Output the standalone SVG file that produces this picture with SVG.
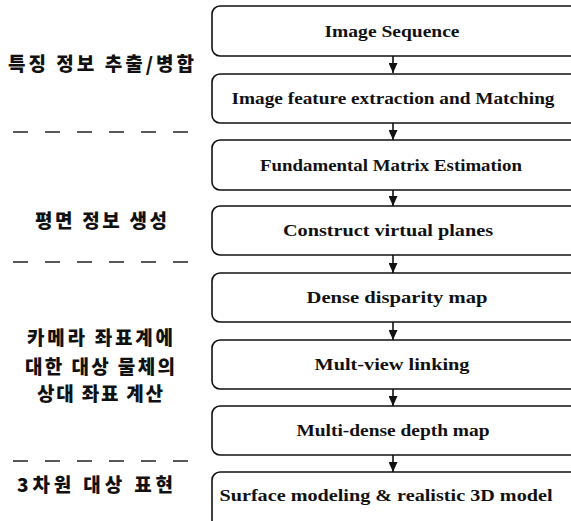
<svg xmlns="http://www.w3.org/2000/svg" width="571" height="521" viewBox="0 0 571 521">
<style>
.box{fill:#fff;stroke:#111;stroke-width:1.6}
.t{font-family:"Liberation Serif",serif;font-weight:bold;font-size:17.5px;fill:#111;text-anchor:middle}
.k{font-family:"Noto Sans CJK KR",sans-serif;font-weight:900;font-size:19px;fill:#111;text-anchor:middle}
.sep{stroke:#222;stroke-width:1.3;stroke-dasharray:15 17}
.con{stroke:#111;stroke-width:1.6;fill:none;marker-end:url(#ah)}
</style>
<defs>
<marker id="ah" markerWidth="10" markerHeight="9" refX="10" refY="4.5" orient="auto" markerUnits="userSpaceOnUse" viewBox="0 0 10 9">
<path d="M0,0 L10,4.5 L0,9 Z" fill="#111"/>
</marker>
</defs>
<rect width="571" height="521" fill="#fff"/>
<g id="separators">
<line class="sep" x1="13" y1="132" x2="196" y2="132"/>
<line class="sep" x1="13" y1="262" x2="196" y2="262"/>
<line class="sep" x1="13" y1="461" x2="196" y2="461"/>
</g>
<g id="stage-labels">
<text class="k" x="101" y="71" textLength="186" lengthAdjust="spacing">특징 정보 추출/병합</text>
<text class="k" x="101" y="228" textLength="132" lengthAdjust="spacing">평면 정보 생성</text>
<text class="k" x="100" y="345" textLength="146" lengthAdjust="spacing">카메라 좌표계에</text>
<text class="k" x="100" y="374" textLength="150" lengthAdjust="spacing">대한 대상 물체의</text>
<text class="k" x="100" y="401" textLength="126" lengthAdjust="spacing">상대 좌표 계산</text>
<text class="k" x="95" y="492" textLength="156" lengthAdjust="spacing">3차원 대상 표현</text>
</g>
<g id="connectors">
<line class="con" x1="393" y1="56" x2="393" y2="73"/>
<line class="con" x1="393" y1="123" x2="393" y2="140"/>
<line class="con" x1="393" y1="190" x2="393" y2="206"/>
<line class="con" x1="393" y1="255" x2="393" y2="273"/>
<line class="con" x1="393" y1="322" x2="393" y2="340"/>
<line class="con" x1="393" y1="389" x2="393" y2="406"/>
<line class="con" x1="393" y1="455" x2="393" y2="472"/>
</g>
<g id="n1"><rect class="box" x="212" y="6" width="420" height="50" rx="8"/><text class="t" x="392" y="37" textLength="135" lengthAdjust="spacingAndGlyphs">Image Sequence</text></g>
<g id="n2"><rect class="box" x="212" y="74" width="420" height="49" rx="8"/><text class="t" x="393" y="104" textLength="323" lengthAdjust="spacingAndGlyphs">Image feature extraction and Matching</text></g>
<g id="n3"><rect class="box" x="212" y="140" width="420" height="50" rx="8"/><text class="t" x="391" y="171" textLength="262" lengthAdjust="spacingAndGlyphs">Fundamental Matrix Estimation</text></g>
<g id="n4"><rect class="box" x="212" y="206" width="420" height="49" rx="8"/><text class="t" x="388" y="236" textLength="210" lengthAdjust="spacingAndGlyphs">Construct virtual planes</text></g>
<g id="n5"><rect class="box" x="212" y="273" width="420" height="49" rx="8"/><text class="t" x="397" y="303" textLength="181" lengthAdjust="spacingAndGlyphs">Dense disparity map</text></g>
<g id="n6"><rect class="box" x="212" y="340" width="420" height="49" rx="8"/><text class="t" x="392" y="370" textLength="155" lengthAdjust="spacingAndGlyphs">Mult-view linking</text></g>
<g id="n7"><rect class="box" x="212" y="406" width="420" height="49" rx="8"/><text class="t" x="393" y="436" textLength="193" lengthAdjust="spacingAndGlyphs">Multi-dense depth map</text></g>
<g id="n8"><rect class="box" x="212" y="472" width="420" height="70" rx="8"/><text class="t" x="386" y="501" textLength="333" lengthAdjust="spacingAndGlyphs">Surface modeling &amp; realistic 3D model</text></g>
</svg>
